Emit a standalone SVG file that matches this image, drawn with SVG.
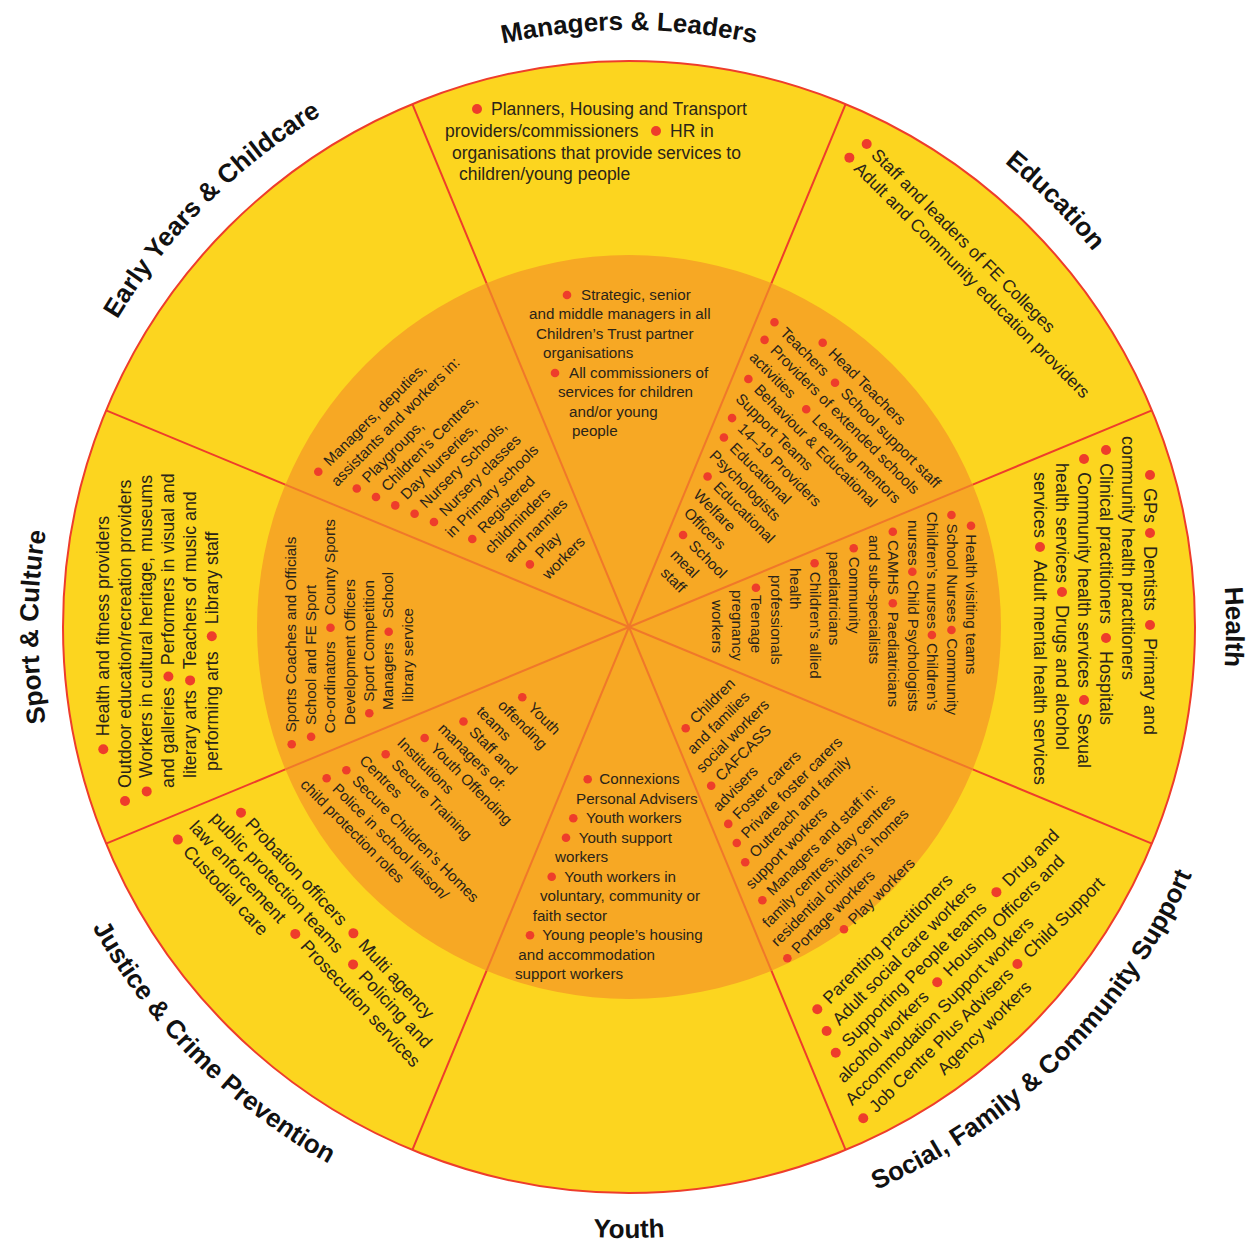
<svg xmlns="http://www.w3.org/2000/svg" width="1251" height="1245" viewBox="0 0 1251 1245">
<style>
.o{font-family:"Liberation Sans",Arial,sans-serif;font-size:18px;fill:#2a2419}
.i{font-family:"Liberation Sans",Arial,sans-serif;font-size:15.2px;fill:#2a2419}
.h{font-family:"Liberation Sans",Arial,sans-serif;font-size:26px;font-weight:bold;fill:#111111}
.b{fill:#ee3d2b}
.lo{stroke:#ee3d2b;stroke-width:2;fill:none}
.li{stroke:#f0782a;stroke-width:2;fill:none}
</style>
<defs>
<circle id="d" r="5" class="b"/>
<circle id="e" r="4.3" class="b"/>
<path id="pM" d="M112,328.5 A597,597 0 0 1 1146,328.5"/>
<path id="pE" d="M474.5,50.3 A597,597 0 0 1 1205.7,781.5"/>
<path id="pH" d="M927.5,110 A597,597 0 0 1 927.5,1144"/>
<path id="pY" d="M52.3,781.5 A597,597 0 0 1 783.5,50.3"/>
<path id="pS" d="M333.5,1138.8 A591,591 0 0 1 333.5,115.2"/>
<path id="pF" d="M469.8,1221 A615,615 0 0 0 1223,467.8"/>
<path id="pU" d="M99.9,932.5 A611,611 0 0 0 1158.1,932.5"/>
<path id="pJ" d="M35,467.8 A615,615 0 0 0 788.2,1221"/>
</defs>
<rect width="1251" height="1245" fill="#ffffff"/>
<g id="wheel">
<circle cx="629" cy="627" r="566" fill="#fcd51f" stroke="#ee3d2b" stroke-width="2"/>
<circle cx="629" cy="627" r="372" fill="#f7a824"/>
</g>
<g id="connectors">
<line class="lo" x1="771.4" y1="283.3" x2="845.6" y2="104.1"/>
<line class="lo" x1="972.7" y1="484.6" x2="1151.9" y2="410.4"/>
<line class="lo" x1="972.7" y1="769.4" x2="1151.9" y2="843.6"/>
<line class="lo" x1="771.4" y1="970.7" x2="845.6" y2="1149.9"/>
<line class="lo" x1="486.6" y1="970.7" x2="412.4" y2="1149.9"/>
<line class="lo" x1="285.3" y1="769.4" x2="106.1" y2="843.6"/>
<line class="lo" x1="285.3" y1="484.6" x2="106.1" y2="410.4"/>
<line class="lo" x1="486.6" y1="283.3" x2="412.4" y2="104.1"/>
<line class="li" x1="629" y1="627" x2="771.4" y2="283.3"/>
<line class="li" x1="629" y1="627" x2="972.7" y2="484.6"/>
<line class="li" x1="629" y1="627" x2="972.7" y2="769.4"/>
<line class="li" x1="629" y1="627" x2="771.4" y2="970.7"/>
<line class="li" x1="629" y1="627" x2="486.6" y2="970.7"/>
<line class="li" x1="629" y1="627" x2="285.3" y2="769.4"/>
<line class="li" x1="629" y1="627" x2="285.3" y2="484.6"/>
<line class="li" x1="629" y1="627" x2="486.6" y2="283.3"/>
</g>

<g id="managers">
<text class="h" text-anchor="middle"><textPath href="#pM" startOffset="50%">Managers &amp; Leaders</textPath></text>
<g class="o" style="font-size:17.5px">
<use href="#d" x="477" y="109"/><text x="491" y="115">Planners, Housing and Transport</text>
<text x="445" y="137">providers/commissioners</text><use href="#d" x="656" y="131"/><text x="670" y="137">HR in</text>
<text x="452" y="158.5">organisations that provide services to</text>
<text x="459" y="180">children/young people</text>
</g>
<g class="i">
<use href="#e" x="567" y="295"/><text x="581" y="299.5">Strategic, senior</text>
<text x="529" y="319">and middle managers in all</text>
<text x="536" y="338.5">Children’s Trust partner</text>
<text x="543" y="358">organisations</text>
<use href="#e" x="555" y="373"/><text x="569" y="377.5">All commissioners of</text>
<text x="558" y="397">services for children</text>
<text x="569" y="416.5">and/or young</text>
<text x="572" y="436">people</text>
</g>
</g>

<g id="education">
<text class="h" text-anchor="middle"><textPath href="#pE" startOffset="50%">Education</textPath></text>
<g class="o" style="font-size:17.5px" transform="translate(866.7,144) rotate(45)">
<use href="#d" x="0" y="0"/><text x="11" y="5.8">Staff and leaders of FE Colleges</text>
<use href="#d" x="-2.6" y="21.9"/><text x="8.4" y="27.7">Adult and Community education providers</text>
</g>
<g class="i" transform="translate(822.7,342.7) rotate(45)">
<use href="#e" x="0" y="0"/><text x="11.5" y="4.7">Head Teachers</text>
<use href="#e" x="-48.6" y="19.6"/><text x="-37.1" y="24.3">Teachers</text><use href="#e" x="37" y="19.6"/><text x="48.5" y="24.3">School support staff</text>
<use href="#e" x="-43.1" y="39.1"/><text x="-31.6" y="43.8">Providers of extended schools</text>
<text x="-41.5" y="63.4">activities</text><use href="#e" x="35.4" y="58.7"/><text x="46.9" y="63.4">Learning mentors</text>
<use href="#e" x="-26.9" y="78.2"/><text x="-15.4" y="82.9">Behaviour &amp; Educational</text>
<text x="-21.9" y="102.5">Support Teams</text>
<use href="#e" x="-10.8" y="117.4"/><text x="0.7" y="122.1">14–19 Providers</text>
<use href="#e" x="-2.8" y="136.9"/><text x="8.7" y="141.6">Educational</text>
<text x="-0.2" y="161.2">Psychologists</text>
<use href="#e" x="13.2" y="176"/><text x="24.7" y="180.7">Educational</text>
<text x="16.3" y="200.3">Welfare</text>
<text x="22.2" y="219.9">Officers</text>
<use href="#e" x="37.2" y="234.7"/><text x="48.7" y="239.4">School</text>
<text x="42.2" y="259">meal</text>
<text x="48.1" y="278.5">staff</text>
</g>
</g>

<g id="health">
<text class="h" text-anchor="middle"><textPath href="#pH" startOffset="50%">Health</textPath></text>
<g class="o" transform="translate(1150,475) rotate(90)">
<use href="#d" x="0" y="0"/><text x="13" y="5.8">GPs</text><use href="#d" x="58" y="0"/><text x="71" y="5.8">Dentists</text><use href="#d" x="150" y="0"/><text x="163" y="5.8">Primary and</text>
<text x="-39" y="27.8">community health practitioners</text>
<use href="#d" x="-25" y="44"/><text x="-12" y="49.8">Clinical practitioners</text><use href="#d" x="163" y="44"/><text x="176" y="49.8">Hospitals</text>
<use href="#d" x="-16" y="66"/><text x="-3" y="71.8">Community health services</text><use href="#d" x="225" y="66"/><text x="238" y="71.8">Sexual</text>
<text x="-12" y="93.8">health services</text><use href="#d" x="117" y="88"/><text x="130" y="93.8">Drugs and alcohol</text>
<text x="-3" y="115.8">services</text><use href="#d" x="72" y="110"/><text x="85" y="115.8">Adult mental health services</text>
</g>
<g class="i" transform="translate(971,525.7) rotate(90)">
<use href="#e" x="0" y="0"/><text x="8.5" y="4.7">Health visiting teams</text>
<use href="#e" x="-10.7" y="19.55"/><text x="-2.2" y="24.25">School Nurses</text><use href="#e" x="104.3" y="19.55"/><text x="112.6" y="24.25">Community</text>
<text x="-14" y="43.8">Children’s nurses</text><use href="#e" x="109.3" y="39.1"/><text x="117.3" y="43.8">Children’s</text>
<text x="-5.7" y="63.35">nurses</text><use href="#e" x="46" y="58.65"/><text x="54.3" y="63.35">Child Psychologists</text>
<use href="#e" x="6" y="78.2"/><text x="14.3" y="82.9">CAMHS</text><use href="#e" x="77.6" y="78.2"/><text x="86" y="82.9">Paediatricians</text>
<text x="9.3" y="102.45">and sub-specialists</text>
<use href="#e" x="22.6" y="117.3"/><text x="31" y="122">Community</text>
<text x="26" y="141.55">paediatricians</text>
<use href="#e" x="37.6" y="156.4"/><text x="46" y="161.1">Children’s allied</text>
<text x="42.3" y="180.65">health</text>
<text x="49.3" y="200.2">professionals</text>
<use href="#e" x="62" y="215.05"/><text x="69.3" y="219.75">Teenage</text>
<text x="64.3" y="239.3">pregnancy</text>
<text x="74.3" y="258.85">workers</text>
</g>
</g>

<g id="social">
<text class="h" text-anchor="middle"><textPath href="#pF" startOffset="50%">Social, Family &amp; Community Support</textPath></text>
<g class="o" style="font-size:17.5px" transform="translate(817.3,1009.3) rotate(-45)">
<use href="#d" x="0" y="0"/><text x="12" y="5.8">Parenting practitioners</text>
<use href="#d" x="-8.7" y="21.9"/><text x="3.8" y="27.7">Adult social care workers</text>
<use href="#d" x="-17.7" y="43.8"/><text x="-5.2" y="49.6">Supporting People teams</text><use href="#d" x="209.5" y="43.8"/><text x="222" y="49.6">Drug and</text>
<text x="-33.9" y="71.5">alcohol workers</text><use href="#d" x="103.9" y="65.7"/><text x="116.4" y="71.5">Housing Officers and</text>
<text x="-43.8" y="93.4">Accommodation Support workers</text>
<use href="#d" x="-44.5" y="109.5"/><text x="-32" y="115.3">Job Centre Plus Advisers</text><use href="#d" x="173.5" y="109.5"/><text x="186" y="115.3">Child Support</text>
<text x="42.7" y="137.2">Agency workers</text>
</g>
<g class="i" transform="translate(685.7,728.3) rotate(-45)">
<use href="#e" x="0" y="0"/><text x="10" y="4.7">Children</text>
<text x="-13.4" y="24.24">and families</text>
<text x="-20.5" y="43.78">social workers</text>
<use href="#e" x="-22.6" y="58.62"/><text x="-12.6" y="63.32">CAFCASS</text>
<text x="-35.8" y="82.86">advisers</text>
<use href="#e" x="-37.5" y="97.7"/><text x="-27.5" y="102.4">Foster carers</text>
<use href="#e" x="-45" y="117.24"/><text x="-35" y="121.94">Private foster carers</text>
<use href="#e" x="-52.6" y="136.78"/><text x="-42.6" y="141.48">Outreach and family</text>
<text x="-67.6" y="161.02">support workers</text>
<use href="#e" x="-67.4" y="175.86"/><text x="-57.4" y="180.56">Managers and staff in:</text>
<text x="-83" y="200.1">family centres, day centres</text>
<text x="-90" y="219.64">residential children’s homes</text>
<use href="#e" x="-90.7" y="234.48"/><text x="-80.7" y="239.18">Portage workers</text>
<use href="#e" x="-30.2" y="254.02"/><text x="-20.2" y="258.72">Play workers</text>
</g>
</g>

<g id="youth">
<text class="h" text-anchor="middle"><textPath href="#pU" startOffset="50%">Youth</textPath></text>
<g class="i">
<use href="#e" x="587.7" y="779.3"/><text x="599.3" y="784">Connexions</text>
<text x="576" y="803.5">Personal Advisers</text>
<use href="#e" x="573.3" y="818.3"/><text x="586" y="823">Youth workers</text>
<use href="#e" x="566" y="837.8"/><text x="578.7" y="842.5">Youth support</text>
<text x="555" y="862">workers</text>
<use href="#e" x="551.7" y="876.8"/><text x="564.3" y="881.5">Youth workers in</text>
<text x="540" y="901">voluntary, community or</text>
<text x="532.7" y="920.5">faith sector</text>
<use href="#e" x="530" y="935.3"/><text x="542.3" y="940">Young people’s housing</text>
<text x="518.3" y="959.5">and accommodation</text>
<text x="515" y="979">support workers</text>
</g>
</g>

<g id="justice">
<text class="h" text-anchor="middle"><textPath href="#pJ" startOffset="50%">Justice &amp; Crime Prevention</textPath></text>
<g class="o" transform="translate(241,812.7) rotate(47)">
<use href="#d" x="0" y="0"/><text x="11" y="5.8">Probation officers</text><use href="#d" x="164.8" y="0"/><text x="177" y="5.8">Multi agency</text>
<text x="-17" y="27.3">public protection teams</text><use href="#d" x="187.4" y="21.5"/><text x="200" y="27.3">Policing and</text>
<text x="-25" y="48.8">law enforcement</text><use href="#d" x="125.7" y="43"/><text x="138" y="48.8">Prosecution services</text>
<use href="#d" x="-23.4" y="64.5"/><text x="-11" y="70.3">Custodial care</text>
</g>
<g class="i" transform="translate(522.3,697.3) rotate(45)">
<use href="#e" x="0" y="0"/><text x="11.5" y="4.7">Youth</text>
<text x="-11.5" y="24.26">offending</text>
<text x="-22.2" y="43.82">teams</text>
<use href="#e" x="-24.5" y="58.68"/><text x="-13" y="63.38">Staff and</text>
<text x="-37.5" y="82.94">managers of:</text>
<use href="#e" x="-40.3" y="97.8"/><text x="-28.8" y="102.5">Youth Offending</text>
<text x="-56.3" y="122.06">Institutions</text>
<use href="#e" x="-56.3" y="136.92"/><text x="-44.8" y="141.62">Secure Training</text>
<text x="-70.5" y="161.18">Centres</text>
<use href="#e" x="-72.8" y="176.04"/><text x="-61.3" y="180.74">Secure Children’s Homes</text>
<use href="#e" x="-81.1" y="195.6"/><text x="-69.6" y="200.3">Police in school liaison/</text>
<text x="-95.2" y="219.86">child protection roles</text>
</g>
</g>

<g id="sport">
<text class="h" text-anchor="middle"><textPath href="#pS" startOffset="50%">Sport &amp; Culture</textPath></text>
<g class="o" style="font-size:17.8px" transform="translate(103.3,749.2) rotate(-90)">
<use href="#d" x="0" y="0"/><text x="13" y="5.8">Health and fitness providers</text>
<use href="#d" x="-51.8" y="21.7"/><text x="-38.8" y="27.5">Outdoor education/recreation providers</text>
<use href="#d" x="-42.2" y="43.4"/><text x="-28.8" y="49.2">Workers in cultural heritage, museums</text>
<text x="-38.8" y="70.9">and galleries</text><use href="#d" x="72.7" y="65.1"/><text x="84" y="70.9">Performers in visual and</text>
<text x="-28.8" y="92.6">literary arts</text><use href="#d" x="68.8" y="86.8"/><text x="80" y="92.6">Teachers of music and</text>
<text x="-21.8" y="114.3">performing arts</text><use href="#d" x="112.9" y="108.5"/><text x="125" y="114.3">Library staff</text>
</g>
<g class="i" transform="translate(291.7,744.3) rotate(-90)">
<use href="#e" x="0" y="0"/><text x="12" y="4.7">Sports Coaches and Officials</text>
<use href="#e" x="7.6" y="19.4"/><text x="19.3" y="24.1">School and FE Sport</text>
<text x="11" y="43.5">Co-ordinators</text><use href="#e" x="116.6" y="38.8"/><text x="129" y="43.5">County Sports</text>
<text x="19.3" y="62.9">Development Officers</text>
<use href="#e" x="31" y="77.6"/><text x="42.6" y="82.3">Sport Competition</text>
<text x="34.3" y="101.7">Managers</text><use href="#e" x="112.6" y="97"/><text x="126" y="101.7">School</text>
<text x="42.6" y="121.1">library service</text>
</g>
</g>

<g id="early-years">
<text class="h" text-anchor="middle"><textPath href="#pY" startOffset="50%">Early Years &amp; Childcare</textPath></text>
<g class="i" transform="translate(318.3,471.7) rotate(-45)">
<use href="#e" x="0" y="0"/><text x="11.5" y="4.7">Managers, deputies,</text>
<text x="2.4" y="24.26">assistants and workers in:</text>
<use href="#e" x="15.3" y="39.12"/><text x="26.8" y="43.82">Playgroups,</text>
<use href="#e" x="22.9" y="58.68"/><text x="34.4" y="63.38">Children’s Centres,</text>
<use href="#e" x="30.6" y="78.24"/><text x="42.1" y="82.94">Day Nurseries,</text>
<use href="#e" x="38.4" y="97.8"/><text x="49.9" y="102.5">Nursery Schools,</text>
<use href="#e" x="46.2" y="117.36"/><text x="57.7" y="122.06">Nursery classes</text>
<text x="47" y="141.62">in Primary schools</text>
<use href="#e" x="61.3" y="156.48"/><text x="72.8" y="161.18">Registered</text>
<text x="63.6" y="180.74">childminders</text>
<text x="70.7" y="200.3">and nannies</text>
<use href="#e" x="84.1" y="215.16"/><text x="95.6" y="219.86">Play</text>
<text x="86" y="239.42">workers</text>
</g>
</g>
</svg>
